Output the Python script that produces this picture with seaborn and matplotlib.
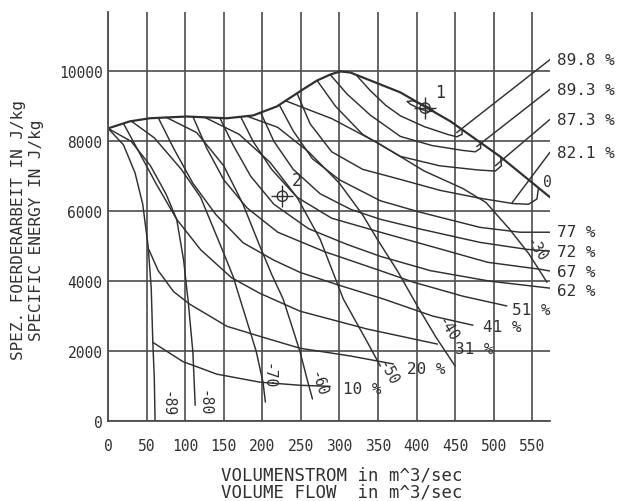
import matplotlib
matplotlib.use("Agg")
import matplotlib.pyplot as plt
import pandas as pd
import seaborn as sns

# ---- fan map data: flow in m^3/s, specific energy in J/kg ----
# surge (stall) limit
surge_flow = [0, 28, 54, 102, 154, 188, 219, 253, 271, 288, 301]
surge_energy = [8370, 8570, 8660, 8710, 8660, 8740, 9000, 9490, 9740, 9910, 10000]

# guide-vane angle characteristics
blade_labels = ["-89", "-80", "-70", "-60", "-50", "-40", "-30", "0"]
blade_flow = [
    [0, 20, 35, 45, 52, 56, 58, 60, 61],
    [0, 30, 55, 75, 89, 98, 104, 110, 113],
    [30, 60, 95, 120, 135, 150, 162, 178, 192, 201, 204],
    [75, 115, 150, 175, 195, 212, 227, 240, 249, 258, 265],
    [125, 170, 210, 245, 275, 305, 336, 353],
    [180, 220, 260, 300, 330, 349, 375, 401, 425, 450],
    [230, 290, 350, 410, 460, 490, 520, 545, 569],
    [301, 314, 379, 444, 508, 573],
]
blade_energy = [
    [8370, 7900, 7100, 6200, 5000, 3800, 2300, 1200, 0],
    [8370, 8000, 7300, 6500, 5770, 4600, 3400, 1970, 450],
    [8580, 8100, 7200, 6400, 5600, 4800, 4140, 3000, 2000, 1100, 540],
    [8690, 8250, 7300, 6200, 5100, 4200, 3490, 2600, 1970, 1200, 630],
    [8690, 8200, 7400, 6400, 5200, 3490, 2260, 1570],
    [8720, 8400, 7700, 6800, 5900, 5200, 4300, 3290, 2400, 1570],
    [9160, 8650, 7950, 7150, 6650, 6250, 5500, 4800, 3970],
    [10000, 9970, 9400, 8570, 7570, 6400],
]

# iso-efficiency lines (%)
eff_labels = ["89.8", "89.3", "87.3", "82.1", "77", "72", "67", "62",
              "51", "41", "31", "20", "10"]
eff_flow = [
    [322, 340, 360, 379, 410, 440, 452, 459, 459],
    [288, 310, 340, 379, 420, 460, 476, 483, 483],
    [271, 295, 330, 379, 430, 480, 502, 510, 509],
    [245, 262, 290, 330, 379, 430, 480, 525, 545, 556, 558],
    [222, 240, 265, 300, 353, 405, 482, 534, 573],
    [198, 215, 240, 275, 315, 353, 405, 482, 543, 573],
    [172, 188, 212, 245, 290, 353, 418, 492, 560, 573],
    [145, 162, 185, 215, 260, 310, 353, 418, 495, 573],
    [110, 128, 150, 180, 220, 280, 353, 396, 460, 517],
    [65, 85, 110, 140, 175, 215, 249, 300, 357, 421, 473],
    [20, 40, 62, 89, 120, 160, 197, 249, 336, 427],
    [53, 65, 85, 106, 154, 200, 249, 314, 370],
    [58, 97, 141, 197, 250, 288],
]
eff_energy = [
    [9890, 9450, 9030, 8730, 8420, 8200, 8130, 8200, 8336],
    [9910, 9350, 8750, 8140, 7880, 7740, 7700, 7800, 7962],
    [9740, 9000, 8200, 7570, 7300, 7180, 7150, 7300, 7552],
    [9375, 8500, 7700, 7200, 6910, 6600, 6380, 6220, 6200, 6350, 6670],
    [9043, 8300, 7500, 6900, 6300, 5970, 5540, 5400, 5400],
    [8820, 8000, 7200, 6500, 6050, 5770, 5490, 5110, 4910, 4860],
    [8700, 8000, 7200, 6400, 5800, 5400, 5000, 4540, 4340, 4290],
    [8670, 7900, 7000, 6200, 5500, 5050, 4710, 4300, 4000, 3800],
    [8710, 7800, 6900, 6100, 5400, 4850, 4300, 3970, 3570, 3290],
    [8680, 7800, 6800, 5900, 5100, 4600, 4250, 3880, 3490, 3000, 2740],
    [8510, 7700, 6800, 5770, 4900, 4100, 3650, 3140, 2630, 2200],
    [4900, 4300, 3700, 3340, 2710, 2400, 2080, 1860, 1630],
    [2250, 1700, 1340, 1110, 1020, 990],
]

# best-efficiency island around operating point 1
peak_flow = [388, 395, 405, 418, 422, 416, 404, 392, 388]
peak_energy = [9140, 9160, 9080, 8950, 8870, 8850, 8930, 9060, 9140]

# leader lines from the right-hand labels to the closed contours
leader_labels = ["89.8", "89.3", "87.3", "82.1"]
leader_flow = [[573, 452], [573, 478], [573, 502], [573, 524]]
leader_energy = [[10340, 8250], [9490, 7850], [8630, 7300], [7690, 6250]]

# operating points
op_names = ["1", "2"]
op_flow = [411, 226]
op_energy = [8950, 6430]

# axis ticks
x_ticks = [0, 50, 100, 150, 200, 250, 300, 350, 400, 450, 500, 550]
y_ticks = [0, 2000, 4000, 6000, 8000, 10000]


def long_table(names, flows, energies, prefix):
    rows = []
    for name, qs, ys in zip(names, flows, energies):
        for q, y in zip(qs, ys):
            rows.append({"curve": f"{prefix} {name}", "flow": q, "energy": y})
    return pd.DataFrame(rows)


thin = pd.concat([
    long_table(blade_labels[:-1], blade_flow[:-1], blade_energy[:-1], "vane"),
    long_table(eff_labels, eff_flow, eff_energy, "eta"),
    long_table(["peak"], [peak_flow], [peak_energy], "eta"),
    long_table(leader_labels, leader_flow, leader_energy, "leader"),
], ignore_index=True)
bold = pd.concat([
    long_table(["surge"], [surge_flow], [surge_energy], "limit"),
    long_table(blade_labels[-1:], blade_flow[-1:], blade_energy[-1:], "vane"),
], ignore_index=True)

sns.set_theme(style="white")
MONO = ["DejaVu Sans Mono", "DejaVu Sans"]
plt.rcParams["font.family"] = MONO
INK = "#303030"
GRID = "#4d4d4d"

fig = plt.figure(figsize=(6.23, 5.02), dpi=100)
fig.patch.set_facecolor("white")
ax = fig.add_axes([0.1734, 0.1594, 0.7095, 0.8147])
ax.set_facecolor("white")

sns.lineplot(data=thin, x="flow", y="energy", units="curve", estimator=None,
             sort=False, color=INK, linewidth=1.05, legend=False, ax=ax)
sns.lineplot(data=bold, x="flow", y="energy", units="curve", estimator=None,
             sort=False, color=INK, linewidth=1.6, legend=False, ax=ax)

# operating point symbols (circle with cross hair)
ops = pd.DataFrame({"flow": op_flow, "energy": op_energy, "name": op_names})
sns.scatterplot(data=ops, x="flow", y="energy", marker="o", s=55,
                facecolor="none", edgecolor=INK, linewidth=1.0, ax=ax, legend=False)
sns.scatterplot(data=ops, x="flow", y="energy", marker="+", s=260,
                color=INK, linewidth=1.0, ax=ax, legend=False)
for name, q, y in zip(op_names, op_flow, op_energy):
    ax.annotate(name, (q, y), xytext=(7, 5), textcoords="offset points",
                fontsize=12, color=INK, ha="left", va="bottom")

# vane angle labels at the lower ends of the characteristics
vane_text = {
    "-89": (77, 510, -90), "-80": (125, 540, -90), "-70": (208, 1310, -90),
    "-60": (272, 1090, -72), "-50": (362, 1400, -62), "-40": (440, 2630, -58),
    "-30": (554, 4910, -55), "0": (569, 6860, 0),
}
for lab in blade_labels:
    q, y, rot = vane_text[lab]
    ax.text(q, y, lab, rotation=rot, ha="center", va="center",
            fontsize=10.5, color=INK)

# efficiency labels
right_label_y = {"89.8": 10340, "89.3": 9490, "87.3": 8630, "82.1": 7690,
                 "77": 5430, "72": 4860, "67": 4290, "62": 3740}
inner_label_pos = {"51": (524, 3200), "41": (486, 2690), "31": (450, 2060),
                   "20": (388, 1490), "10": (305, 940)}
for lab in eff_labels:
    if lab in right_label_y:
        ax.text(582, right_label_y[lab], f"{lab} %", ha="left", va="center",
                fontsize=11.5, color=INK, clip_on=False)
    else:
        q, y = inner_label_pos[lab]
        ax.text(q, y, f"{lab} %", ha="left", va="center", fontsize=11.5,
                color=INK, clip_on=False)

ax.set_xlim(0, 573)
ax.set_ylim(0, 11700)
ax.set_xticks(x_ticks)
ax.set_yticks(y_ticks)
ax.set_xticklabels([str(t) for t in x_ticks])
ax.set_yticklabels([str(t) for t in y_ticks])
ax.tick_params(axis="both", length=0, labelsize=10.5, labelcolor=INK)
ax.tick_params(axis="x", pad=12.5)
ax.tick_params(axis="y", pad=4)
ax.grid(True, color=GRID, linewidth=1.2)
ax.set_axisbelow(True)
for side in ["top", "right"]:
    ax.spines[side].set_visible(False)
for side in ["left", "bottom"]:
    ax.spines[side].set_color(GRID)
    ax.spines[side].set_linewidth(1.3)
ax.set_xlabel("")
ax.set_ylabel("")

fig.text(0.549, 1 - 475 / 502, "VOLUMENSTROM in m^3/sec", ha="center", va="center",
         fontsize=12.5, color=INK)
fig.text(0.549, 1 - 493 / 502, "VOLUME FLOW  in m^3/sec", ha="center", va="center",
         fontsize=12.5, color=INK)
fig.text(19 / 623, 1 - 230 / 502, "SPEZ. FOERDERARBEIT IN J/kg", rotation=90,
         ha="center", va="center", fontsize=11.5, color=INK)
fig.text(37 / 623, 1 - 230 / 502, "SPECIFIC ENERGY IN J/kg", rotation=90,
         ha="center", va="center", fontsize=11.5, color=INK)

fig.savefig("out.png", dpi=100, facecolor="white")
